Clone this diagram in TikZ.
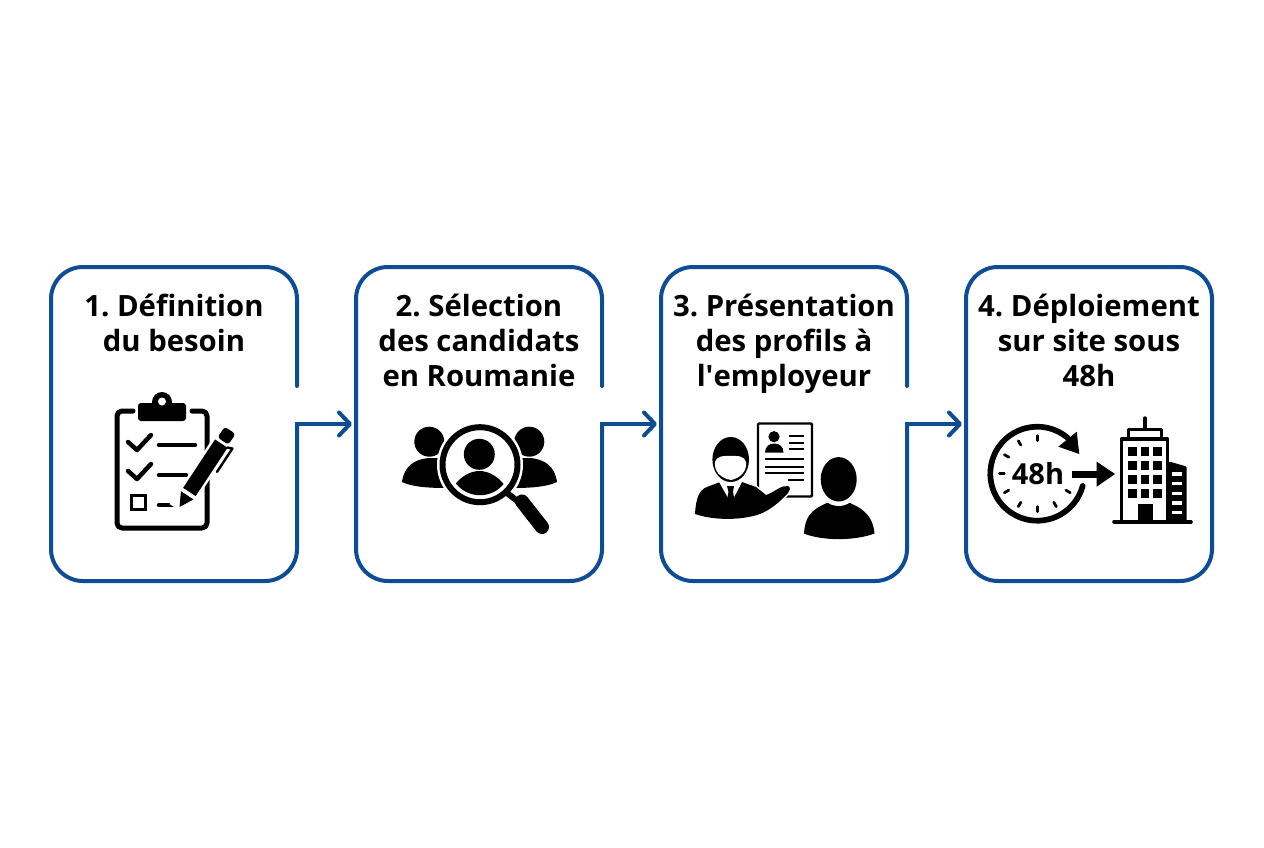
\documentclass[tikz,border=0pt]{standalone}
\usepackage{fontspec}
\setmainfont{Open Sans}
\newfontfamily\straightfont{Open Sans}
\usetikzlibrary{arrows.meta,calc}
\definecolor{flowblue}{HTML}{0F4C96}
\tikzset{
  x=1pt,y=-1pt,
  boxframe/.style={minimum width=246pt,minimum height=314pt,inner sep=0pt,outer sep=0pt},
  outline/.style={draw=flowblue,line width=4pt,rounded corners=32pt,line cap=round},
  conn/.style={draw=flowblue,line width=4pt,line cap=rect,shorten >=4pt,-{Straight Barb[length=11pt,width=23pt,line width=4pt,round]}},
  titletext/.style={font=\bfseries\fontsize{29.3}{35}\selectfont\frenchspacing,align=center,anchor=north,inner sep=0pt,text=black},
  ink/.style={fill=black,draw=none},
  inkline/.style={draw=black,line cap=round,line join=round},
}
\begin{document}
\begin{tikzpicture}
\useasboundingbox (0,0) rectangle (1264,848);
\fill[white] (0,0) rectangle (1264,848);
% frames
\node[boxframe] (box1) at (174,424) {};
\node[boxframe] (box2) at (479,424) {};
\node[boxframe] (box3) at (784,424) {};
\node[boxframe] (box4) at (1089,424) {};
\coordinate (gap1) at (297,386);
\coordinate (gap2) at (602,386);
\coordinate (gap3) at (907,386);
\foreach \b/\g in {box1/gap1,box2/gap2,box3/gap3}{
  \draw[outline] (\g) -- (\b.north east) -- (\b.north west) -- (\b.south west) -- (\b.south east) -- (\b.east);
}
\draw[outline] (box4.north) -- (box4.north east) -- (box4.south east) -- (box4.south west) -- (box4.north west) -- cycle;
\draw[conn] (box1.east) -- (box2.west);
\draw[conn] (box2.east) -- (box3.west);
\draw[conn] (box3.east) -- (box4.west);
% titles
\node[titletext] (title1) at (174,291.5) {\strut 1. Définition\\\strut du besoin};
\node[titletext] (title2) at (479,291.5) {\strut 2. Sélection\\\strut des candidats\\\strut en Roumanie};
\node[titletext] (title3) at (784,291.5) {\strut 3. Présentation\\\strut des profils à\\\strut l{\straightfont\bfseries '}employeur};
\node[titletext] (title4) at (1089,291.5) {\strut 4. Déploiement\\\strut sur site sous\\\strut 48h};

% ---- icon 1: clipboard
\draw[inkline,line width=5pt,rounded corners=5pt] (133,411) -- (117,411) -- (117,528) -- (207,528) -- (207,411) -- (192,411);
\fill[black,rounded corners=3pt] (138,403) rectangle (186,421);
\fill[black] (162,402) circle[radius=10];
\fill[white] (162,401.5) circle[radius=4];
\draw[inkline,line width=4.5pt] (128,442) -- (137,450) -- (151,435);
\draw[inkline,line width=4.5pt] (128,471) -- (137,479) -- (151,464);
\draw[inkline,line width=4.5pt] (159,445) -- (195,445);
\draw[inkline,line width=4.5pt] (159,475) -- (186,475);
\draw[inkline,line width=4.5pt] (159,505) -- (174,505);
\draw[draw=black,line width=3.8pt] (131.5,495.5) rectangle (145.5,509.5);
\begin{scope}[shift={(179.5,507)},x={(0.55pt,0.834pt)},y={(0.834pt,-0.55pt)}]
  \fill[white] (-3,-10) -- (80,-10) -- (80,10) -- (-3,10) -- cycle;
  \fill[black] (0,0) -- (14,-7.5) -- (14,7.5) -- cycle;
  \fill[black] (18,-7.5) -- (76,-7.5) -- (76,7.5) -- (18,7.5) -- cycle;
  \fill[black,rounded corners=3pt] (79,-6.5) -- (92,-6.5) -- (92,6.5) -- (79,6.5) -- cycle;
  \draw[inkline,line width=2.4pt] (76,7) -- (78,12) -- (50,12);
\end{scope}

% ---- icon 2: magnifier
\fill[black] (429.3,441.7) circle[radius=15];
\fill[black] (529.3,441.7) circle[radius=15];
\fill[black] (402,482) .. controls (404,466) and (415,459) .. (429,458) -- (445,458) -- (445,488) .. controls (430,488) and (412,487) .. (402,482) -- cycle;
\fill[black] (557,482) .. controls (555,466) and (544,459) .. (530,458) -- (514,458) -- (514,488) .. controls (529,488) and (547,487) .. (557,482) -- cycle;
\fill[white] (480,464.7) circle[radius=43];
\draw[draw=black,line width=6pt] (480,464.7) circle[radius=37.5];
\fill[black] (479.3,454.3) circle[radius=15.5];
\begin{scope}
  \clip (480,464.7) circle[radius=30.5];
  \fill[black] (454,486) .. controls (460,477) and (470,471) .. (479.3,471) .. controls (489,471) and (499,477) .. (505,486) -- (505,500) -- (454,500) -- cycle;
\end{scope}
\draw[inkline,line width=6pt,line cap=butt] (507,493) -- (520,503);
\draw[inkline,line width=14pt] (522,501.5) -- (542,527);

% ---- icon 3: presentation
\draw[draw=black,fill=white,line width=2.2pt,rounded corners=1pt] (758,423.5) rectangle (812,496.5);
\fill[black] (774,436.7) circle[radius=5.6];
\fill[black] (765,452.7) .. controls (765,446) and (770,443.5) .. (774,443.5) .. controls (779,443.5) and (783.5,446) .. (783.5,452.7) -- cycle;
\foreach \yy in {436,442.7,449.3}{\draw[draw=black,line width=2.2pt] (789.3,\yy) -- (804.3,\yy);}
\foreach \yy in {459.3,466.7,473.3}{\draw[draw=black,line width=2.2pt] (765.3,\yy) -- (804.3,\yy);}
\draw[draw=black,line width=2.2pt] (787.7,479.7) -- (804.3,479.7);
% presenter
\path[fill=black,draw=white,line width=3pt] (695,514) .. controls (696,498) and (699,490) .. (707,487) -- (720,482) -- (742,482) -- (756,487) -- (766,495) .. controls (775,492) and (781,485) .. (788,486) .. controls (791,487) and (790,491) .. (788,493) .. controls (780,502) and (770,510) .. (760,514) .. controls (740,521) and (712,520) .. (695,514) -- cycle;
\fill[black] (695,514) .. controls (696,498) and (699,490) .. (707,487) -- (720,482) -- (742,482) -- (756,487) -- (766,495) .. controls (775,492) and (781,485) .. (788,486) .. controls (791,487) and (790,491) .. (788,493) .. controls (780,502) and (770,510) .. (760,514) .. controls (740,521) and (712,520) .. (695,514) -- cycle;
\fill[white] (719,482) -- (731,503) -- (742,482) -- cycle;
\fill[black] (727,486) -- (734,486) -- (733,492) -- (735.5,505) -- (730.7,511) -- (726,505) -- (728.5,492) -- cycle;
\fill[black] (730.7,459.5) ellipse[x radius=18.3,y radius=22.5];
\fill[white] (715,462) .. controls (718,455) and (724,456) .. (731,456) .. controls (738,456) and (743,455) .. (746,462) .. controls (747,471) and (741,478) .. (731,480) .. controls (720,478) and (714,471) .. (715,462) -- cycle;
% second person
\fill[black] (804,533.5) .. controls (805,518) and (810,510) .. (827,503) -- (850,503) .. controls (866,510) and (873,518) .. (874.5,533.5) .. controls (855,541) and (822,541) .. (804,533.5) -- cycle;
\fill[white] (838.7,484) ellipse[x radius=21,y radius=22];
\fill[black] (838.7,479.3) ellipse[x radius=18,y radius=22.2];

% ---- icon 4: clock and building
\begin{scope}[shift={(1037.3,473.7)},y=1pt]
  \draw[inkline,line width=5.7pt] (-15:47) arc[start angle=-15,end angle=-310,radius=47pt];
  \foreach \a in {90,120,150,180,210,240,270,300,330}{
    \draw[inkline,line width=2.8pt] (\a:33) -- (\a:38);
  }
\end{scope}
\fill[black] (1076.7,431.7) -- (1079.3,454) -- (1058.3,446.7) -- cycle;
\node[font=\bfseries\fontsize{29}{29}\selectfont,inner sep=0pt] (clocktext) at (1038,474) {48h};
\coordinate (arrowstart) at (1071.7,474);
\coordinate (arrowneck) at (1097,474);
\draw[draw=black,line width=7pt] (arrowstart) -- (arrowneck);
\fill[black] (1096.7,461.7) -- (1115,474) -- (1096.7,486.7) -- cycle;
\draw[draw=black,line width=3.5pt,line cap=round] (1145,418) -- (1145,429);
\draw[draw=black,line width=3.5pt,line join=round] (1128.5,438) -- (1128.5,429.5) -- (1161.5,429.5) -- (1161.5,438);
\draw[draw=black,line width=3.5pt,line join=round] (1121.5,521) -- (1121.5,439) -- (1167.5,439) -- (1167.5,521);
\foreach \xx in {1132.3,1145,1157.3}{
  \foreach \yy in {451.7,465.3,479.3,493.3}{
    \fill[black] (\xx-4.3,\yy-4.3) rectangle (\xx+4.3,\yy+4.3);
  }
}
\fill[black] (1137.7,504) rectangle (1152.7,520);
\fill[black,rounded corners=1pt] (1169,461.5) -- (1186.5,466.5) -- (1186.5,521) -- (1169,521) -- cycle;
\foreach \yy in {473.7,483.5,493.5,503,512.5}{
  \fill[white] (1171.7,\yy-1.9) rectangle (1181.7,\yy+1.9);
}
\draw[inkline,line width=3.6pt] (1114,521.7) -- (1191,521.7);
\end{tikzpicture}
\end{document}
